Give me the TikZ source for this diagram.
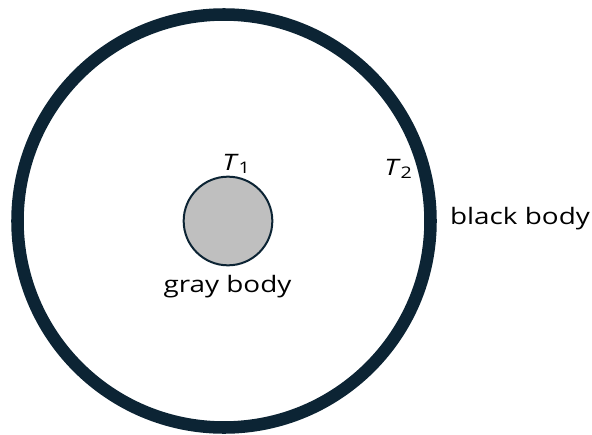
\documentclass[tikz,border=0pt]{standalone}
\usepackage{fontspec}
\setmainfont{Open Sans}[FakeStretch=1.23]
\definecolor{navy}{HTML}{0C2434}
\definecolor{grayfill}{HTML}{BFBFBF}
\begin{document}
\begin{tikzpicture}[x=0.75pt,y=-0.75pt,
  lbl/.style={inner sep=0pt,font=\fontsize{17pt}{20pt}\selectfont,text=black},
  outerbody/.style={circle,draw=navy,line width=9.4pt,minimum size=309.75pt,inner sep=0pt},
  innerbody/.style={circle,draw=navy,fill=grayfill,line width=1.5pt,minimum size=66.5pt,inner sep=0pt}]
\useasboundingbox (0,0) rectangle (592,435);
\node[outerbody] (bb) at (224,221) {};
\node[innerbody] (gb) at (228,221) {};
\node[lbl,anchor=base west] (t1) at (222,170) {\textit{T}\raisebox{-0.3ex}{\fontsize{12pt}{13pt}\selectfont 1}};
\node[lbl,anchor=base west] (t2) at (384,175) {\textit{T}\raisebox{-0.3ex}{\fontsize{12pt}{13pt}\selectfont 2}};
\node[lbl,anchor=base] (gl) at (227.5,292) {gray body};
\node[lbl,anchor=base] (bl) at (520,224) {black body};
\end{tikzpicture}
\end{document}
